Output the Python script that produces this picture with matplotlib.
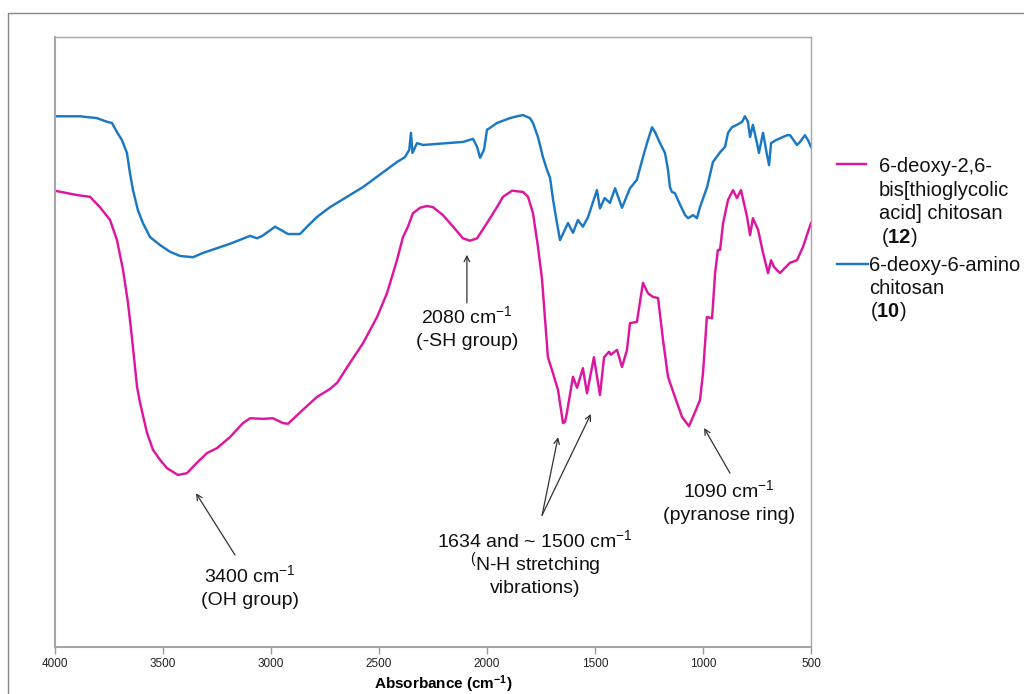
import matplotlib
matplotlib.use("Agg")
import matplotlib.pyplot as plt
from matplotlib.lines import Line2D
from matplotlib.patches import Rectangle

plt.rcParams['font.family'] = ['Liberation Sans', 'DejaVu Sans']
plt.rcParams['mathtext.fontset'] = 'custom'
plt.rcParams['mathtext.rm'] = 'Liberation Sans'
plt.rcParams['mathtext.it'] = 'Liberation Sans'
plt.rcParams['mathtext.bf'] = 'Liberation Sans:bold'

# FTIR spectra (wavenumber in cm-1, relative transmittance)
wn_amino = [4000, 3884, 3806, 3759, 3736, 3713, 3690, 3667, 3653, 3639, 3616, 3593,
            3560, 3514, 3468, 3421, 3361, 3315, 3190, 3097, 3065, 3040, 2981, 2921,
            2866, 2833, 2787, 2727, 2574, 2417, 2380, 2360, 2352, 2345, 2324, 2296,
            2111, 2065, 2046, 2032, 2014, 2000, 1986, 1954, 1894, 1861, 1833, 1801,
            1787, 1764, 1741, 1722, 1708, 1694, 1676, 1662, 1625, 1602, 1579, 1556,
            1532, 1491, 1477, 1455, 1431, 1407, 1375, 1338, 1306, 1278, 1255, 1236,
            1222, 1199, 1176, 1162, 1153, 1144, 1130, 1106, 1083, 1069, 1046, 1028,
            1014, 981, 954, 921, 898, 884, 866, 843, 819, 806, 792, 782, 769, 750,
            741, 722, 704, 694, 685, 662, 611, 597, 565, 551, 528, 514, 500]
t_amino = [87.0, 87.0, 86.7, 86.1, 85.9, 84.4, 83.1, 81.0, 77.7, 74.9, 71.6, 69.5,
           67.2, 65.9, 64.8, 64.1, 63.9, 64.6, 66.1, 67.4, 67.0, 67.4, 68.9, 67.7,
           67.7, 68.9, 70.5, 72.1, 75.4, 79.5, 80.3, 81.5, 84.3, 81.0, 82.6, 82.3,
           82.8, 83.3, 82.0, 80.2, 81.5, 84.8, 85.1, 85.9, 86.7, 87.0, 87.2, 86.7,
           85.9, 83.6, 80.3, 78.2, 76.9, 73.3, 69.5, 66.7, 69.5, 67.9, 70.0, 68.9,
           70.5, 74.9, 71.9, 73.6, 72.8, 75.2, 72.0, 75.2, 76.6, 80.3, 83.1, 85.2,
           84.4, 82.6, 81.0, 78.2, 75.4, 74.6, 74.4, 72.5, 70.8, 70.3, 70.8, 70.3,
           72.1, 75.4, 79.5, 81.1, 82.0, 84.3, 85.2, 85.6, 86.1, 87.0, 86.1, 83.6,
           85.6, 82.6, 81.0, 84.3, 80.7, 79.0, 82.6, 83.1, 83.9, 83.9, 82.3, 82.8,
           83.9, 83.1, 82.0]

wn_thio = [4000, 3900, 3838, 3792, 3745, 3713, 3685, 3662, 3644, 3620, 3606, 3574,
           3546, 3514, 3481, 3431, 3389, 3343, 3296, 3250, 3190, 3130, 3097, 3037,
           2991, 2944, 2921, 2852, 2787, 2727, 2694, 2634, 2574, 2509, 2463, 2417,
           2389, 2366, 2343, 2310, 2278, 2250, 2204, 2157, 2111, 2079, 2046, 2000,
           1954, 1926, 1884, 1833, 1810, 1787, 1764, 1745, 1731, 1718, 1699, 1671,
           1648, 1639, 1630, 1602, 1583, 1556, 1537, 1505, 1477, 1458, 1435, 1427,
           1398, 1375, 1352, 1338, 1306, 1278, 1255, 1232, 1208, 1185, 1162, 1130,
           1097, 1065, 1037, 1014, 1000, 982, 958, 944, 931, 921, 907, 884, 861, 843,
           824, 796, 782, 769, 745, 722, 699, 685, 671, 644, 597, 565, 537, 500]
t_thio = [74.8, 74.1, 73.8, 72.1, 70.0, 66.7, 61.8, 56.4, 50.8, 42.6, 40.0, 35.1,
          32.3, 30.7, 29.3, 28.2, 28.5, 30.2, 31.8, 32.6, 34.4, 36.7, 37.5, 37.4,
          37.5, 36.7, 36.6, 38.9, 41.0, 42.3, 43.3, 46.6, 49.8, 54.1, 58.0, 63.4,
          67.2, 68.9, 71.1, 72.0, 72.3, 72.1, 70.8, 68.9, 67.0, 66.6, 67.0, 69.5,
          72.1, 73.8, 74.8, 74.6, 73.8, 71.1, 65.6, 60.2, 53.6, 47.5, 45.4, 42.1,
          36.7, 36.9, 38.4, 44.3, 42.5, 45.7, 41.6, 47.5, 41.3, 47.5, 48.4, 47.9,
          48.7, 45.9, 48.7, 53.1, 53.3, 59.7, 58.0, 57.4, 57.2, 50.3, 44.3, 41.0,
          37.7, 36.2, 38.5, 40.5, 44.9, 54.1, 53.9, 61.3, 65.1, 65.1, 69.5, 73.3,
          74.9, 73.6, 74.9, 70.5, 67.5, 70.3, 68.4, 64.6, 61.3, 63.4, 62.3, 61.3,
          63.0, 63.4, 65.6, 69.5]

x_ticks = [4000, 3500, 3000, 2500, 2000, 1500, 1000, 500]

legend_thio = ["6-deoxy-2,6-", "bis[thioglycolic", "acid] chitosan"]
legend_amino = ["6-deoxy-6-amino", "chitosan"]

c_thio = '#dc169f'
c_amino = '#1b78c3'
txt = '#111111'

W, H = 1024, 694
fig = plt.figure(figsize=(W / 100, H / 100), dpi=100)
fig.patches.append(Rectangle((8 / W, -0.2), 2.0, 0.2 + (H - 13) / H,
                             transform=fig.transFigure, fill=False,
                             edgecolor='#868686', linewidth=1.0))

ax = fig.add_axes([55 / W, (H - 647) / H, (811 - 55) / W, (647 - 37) / H])
ax.plot(wn_amino, t_amino, color=c_amino, lw=1.75, solid_joinstyle='round')
ax.plot(wn_thio, t_thio, color=c_thio, lw=1.75, solid_joinstyle='round')

ax.set_xlim(4000, 500)
ax.set_ylim(0, 100)
ax.set_xticks(x_ticks)
ax.set_xticklabels([str(v) for v in x_ticks])
ax.set_yticks([])
ax.tick_params(axis='x', direction='out', length=5, width=1, color='#9a9a9a',
               labelsize=8.5, pad=3, labelcolor='#222222')
for name, sp in ax.spines.items():
    sp.set_color('#a6a6a6')
    sp.set_linewidth(1.0 if name in ('top', 'right') else 1.5)

fig.text(443 / W, 1 - 684 / H, r'Absorbance (cm$^{\mathbf{-1}}$)',
         fontsize=11, fontweight='bold', ha='center', va='center')

arrow = dict(arrowstyle='->', color='#333333', lw=0.9, shrinkA=0, shrinkB=0)
fs = 14


def note(x, baselines, lines):
    for y, s in zip(baselines, lines):
        ax.text(x, y, s, fontsize=fs, ha='center', va='baseline', color=txt)


ax.annotate('', xy=(2093, 64.3), xytext=(2093, 56.4), arrowprops=arrow)
note(2093, [53.1, 49.3], ['2080 cm$^{-1}$', '(-SH group)'])

ax.annotate('', xy=(3347, 25.2), xytext=(3167, 15.1), arrowprops=arrow)
note(3097, [10.7, 6.9], ['3400 cm$^{-1}$', '(OH group)'])

ax.annotate('', xy=(1671, 34.4), xytext=(1745, 21.6), arrowprops=arrow)
ax.annotate('', xy=(1519, 38.2), xytext=(1745, 21.6), arrowprops=arrow)
note(1778, [16.4, 12.6, 8.9],
     ['1634 and ~ 1500 cm$^{-1}$', '$^{(}$N-H stretching', 'vibrations)'])

ax.annotate('', xy=(995, 35.9), xytext=(875, 28.5), arrowprops=arrow)
note(880, [24.6, 20.8], ['1090 cm$^{-1}$', '(pyranose ring)'])

# legend entries
lfs = 14.5
fig.add_artist(Line2D([837 / W, 866 / W], [1 - 164 / H] * 2,
                      color=c_thio, lw=1.75, transform=fig.transFigure))
for y, s in zip([172, 196, 219], legend_thio):
    fig.text(879 / W, 1 - y / H, s, fontsize=lfs, ha='left', va='baseline', color=txt)
fig.text(881 / W, 1 - 243 / H, r'($\mathbf{12}$)', fontsize=lfs, ha='left',
         va='baseline', color=txt)
fig.add_artist(Line2D([837 / W, 868 / W], [1 - 264 / H] * 2,
                      color=c_amino, lw=1.75, transform=fig.transFigure))
for y, s in zip([271, 294], legend_amino):
    fig.text(869 / W, 1 - y / H, s, fontsize=lfs, ha='left', va='baseline', color=txt)
fig.text(870 / W, 1 - 317 / H, r'($\mathbf{10}$)', fontsize=lfs, ha='left',
         va='baseline', color=txt)

fig.savefig('out.png', dpi=100, facecolor='white')
